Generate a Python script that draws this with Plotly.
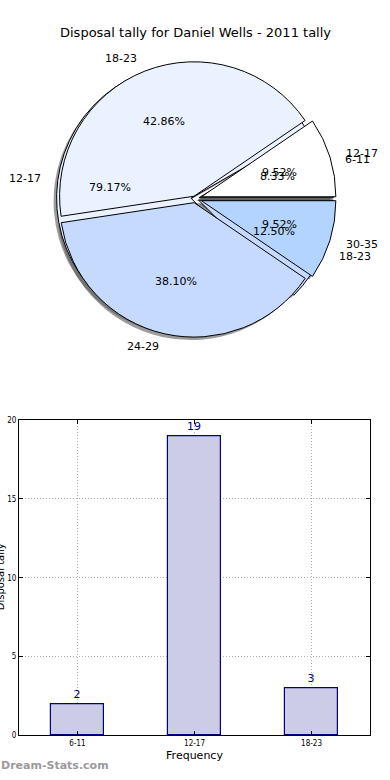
import math
import plotly.graph_objects as go

# ---------------- data ----------------
title_text = "Disposal tally for Daniel Wells - 2011 tally"

# pie drawn underneath (age groups with tallies matching the bar chart)
pieA_labels = ["6-11", "12-17", "18-23"]
pieA_values = [2, 19, 3]
pieA_colors = ["#ffffff", "#ebf2ff", "#c6d9ff"]
pieA_pull = [0.03, 0.03, 0.03]

# pie drawn on top
pieB_labels = ["12-17", "18-23", "24-29", "30-35"]
pieB_values = [2, 9, 8, 2]
pieB_colors = ["#ffffff", "#ebf2ff", "#c6d9ff", "#b3d4ff"]
pieB_pull = [0.05, 0.02, 0.03, 0.05]

bar_categories = ["6-11", "12-17", "18-23"]
bar_values = [2, 19, 3]
y_ticks = [0, 5, 10, 15, 20]

# ---------------- geometry (pixels) ----------------
W, H = 390, 780
CX, CY = 195, 197   # pie centre in px
R = 136             # pie radius in px
SH = 3              # shadow offset px

def px(x):
    return x / W

def py(y):
    return 1 - y / H

def domain(dx=0, dy=0, pulls=None):
    half = R * (1 + max(pulls))
    return dict(x=[px(CX + dx - half), px(CX + dx + half)],
                y=[py(CY + dy + half), py(CY + dy - half)])

fig = go.Figure()

def add_pie(labels, values, colors, pulls, shadow=False):
    # first wedge starts at 3 o'clock and wedges run counter-clockwise
    rot = 90 - 360.0 * values[0] / sum(values)
    common = dict(labels=labels, values=values, pull=pulls, sort=False,
                  direction="counterclockwise", rotation=rot,
                  textinfo="none", showlegend=False)
    if shadow:
        fig.add_trace(go.Pie(
            marker=dict(colors=["rgba(90,90,90,0.6)"] * len(values),
                        line=dict(width=0)),
            hoverinfo="skip", domain=domain(-SH, SH, pulls), **common))
    else:
        fig.add_trace(go.Pie(
            marker=dict(colors=colors, line=dict(color="black", width=1)),
            domain=domain(0, 0, pulls), **common))

add_pie(pieA_labels, pieA_values, pieA_colors, pieA_pull, shadow=True)
add_pie(pieB_labels, pieB_values, pieB_colors, pieB_pull, shadow=True)
add_pie(pieA_labels, pieA_values, pieA_colors, pieA_pull)
add_pie(pieB_labels, pieB_values, pieB_colors, pieB_pull)

annotations = []
font_txt = dict(family="DejaVu Sans", size=11, color="black")

def pie_texts(labels, values, pulls):
    total = sum(values)
    start = 0.0
    for lab, v, p in zip(labels, values, pulls):
        frac = v / total
        mid = (start + frac / 2) * 2 * math.pi
        start += frac
        c, s = math.cos(mid), math.sin(mid)
        ox, oy = CX + p * R * c, CY - p * R * s
        # percentage
        annotations.append(dict(
            x=px(ox + 0.6 * R * c), y=py(oy - 0.6 * R * s),
            xref="paper", yref="paper", text=f"{frac * 100:.2f}%",
            showarrow=False, font=font_txt, xanchor="center", yanchor="middle"))
        # label
        lx, ly = ox + 1.1 * R * c, oy - 1.1 * R * s
        annotations.append(dict(
            x=px(lx), y=py(ly), xref="paper", yref="paper", text=lab,
            showarrow=False, font=font_txt,
            xanchor="left" if lx > CX else "right", yanchor="middle"))

pie_texts(pieA_labels, pieA_values, pieA_pull)
pie_texts(pieB_labels, pieB_values, pieB_pull)

# ---------------- bar chart ----------------
fig.add_trace(go.Bar(
    x=bar_categories, y=bar_values, width=0.45,
    marker=dict(color="#ccccE6", line=dict(color="#000080", width=1.2)),
    text=[str(v) for v in bar_values], textposition="outside",
    textfont=dict(family="DejaVu Sans", size=11, color="#000080"),
    cliponaxis=False, showlegend=False, hoverinfo="x+y",
    xaxis="x", yaxis="y"))

axis_common = dict(
    showline=True, linecolor="black", linewidth=1, mirror="ticks",
    ticks="inside", ticklen=4, tickcolor="black",
    showgrid=True, gridcolor="#b0b0b0", griddash="1px,2px", gridwidth=1,
    zeroline=False,
    tickfont=dict(family="DejaVu Sans Condensed, DejaVu Sans", size=8, color="black"))

fig.update_layout(
    width=W, height=H,
    margin=dict(l=0, r=0, t=0, b=0),
    paper_bgcolor="white", plot_bgcolor="white",
    xaxis=dict(domain=[px(19), px(370)], range=[-0.5, 2.5], type="category",
               title=dict(text="Frequency", standoff=4,
                          font=dict(family="DejaVu Sans", size=11, color="black")),
               **axis_common),
    yaxis=dict(domain=[py(740), py(421)], range=[0, 20], tickvals=y_ticks,
               **axis_common),
    bargap=0,
)

annotations.append(dict(
    x=0.5, y=py(29), xref="paper", yref="paper", text=title_text,
    showarrow=False, font=dict(family="DejaVu Sans", size=13, color="black"),
    xanchor="center", yanchor="middle"))
annotations.append(dict(
    x=px(0), y=py(580), xref="paper", yref="paper", text="Disposal tally",
    showarrow=False, textangle=-90,
    font=dict(family="DejaVu Sans", size=10, color="black"),
    xanchor="center", yanchor="middle"))
annotations.append(dict(
    x=px(-1), y=py(770), xref="paper", yref="paper", text="<b>Dream-Stats.com</b>",
    showarrow=False, font=dict(family="DejaVu Sans", size=11, color="#9a9a9a"),
    xanchor="left", yanchor="middle"))

fig.update_layout(annotations=annotations)

fig.write_html(
    "out.html", config={"displayModeBar": False},
    post_script=("document.body.style.margin='0';"
                 "document.body.style.overflow='hidden';"
                 "document.documentElement.style.overflow='hidden';"))
